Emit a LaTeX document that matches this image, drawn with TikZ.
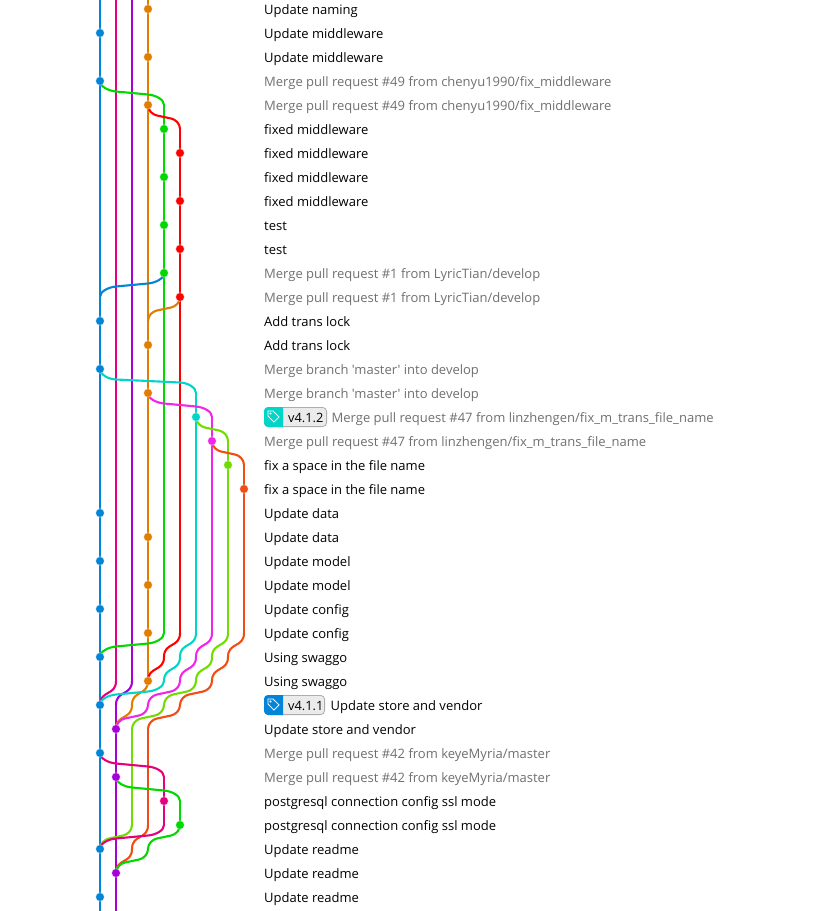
\documentclass[tikz,border=0pt]{standalone}
\usepackage{fontspec}
\usetikzlibrary{calc}
\newfontfamily\uifont{Open Sans}
\definecolor{cblue}{HTML}{0085D9}
\definecolor{cpink}{HTML}{E6007E}
\definecolor{cpurple}{HTML}{A800D8}
\definecolor{corange}{HTML}{E27D00}
\definecolor{cgreen}{HTML}{00D800}
\definecolor{cred}{HTML}{FF0000}
\definecolor{ccyan}{HTML}{00D5C8}
\definecolor{cmag}{HTML}{F026E8}
\definecolor{clime}{HTML}{70DC00}
\definecolor{cfire}{HTML}{F04C14}
\definecolor{cgraytext}{HTML}{707070}
\tikzset{
  lane/.style={line width=2.1pt,line cap=round},
  commit/.style={circle,minimum size=8.6pt,inner sep=0pt,draw=white,draw opacity=.55,line width=.5pt},
  msg/.style={anchor=base west,inner sep=0pt,font=\uifont\fontsize{13}{15}\selectfont,text=black},
  merged/.style={msg,text=cgraytext},
  tagtext/.style={anchor=base west,inner sep=0pt,font=\uifont\fontsize{12.8}{15}\selectfont,text=black},
  tagbox/.style={draw=black!32,fill=black!8,line width=.8pt,rounded corners=4pt},
  tagicon/.style={draw=white,line width=.8pt,line join=round},
}
\newcommand\lnk[5]{%
  \ifnum\numexpr(#4-#2)*(#4-#2)\relax=1
    \draw[lane,#1] (g#2-#3) .. controls ($(g#2-#3)+(0,15)$) and ($(g#4-#5)-(0,15)$) .. (g#4-#5);
  \else
    \pgfmathsetmacro\wid{16*(#4-#2)}%
    \pgfmathsetmacro\rr{min(0.28*abs(\wid),16)*((\wid>0)*2-1)}%
    \pgfmathsetmacro\mm{3/abs(\wid-2*\rr)}%
    \pgfmathsetmacro\cx{0.5*\rr}%
    \pgfmathsetmacro\cy{10.5-0.5*abs(\rr)*\mm}%
    \draw[lane,#1] (g#2-#3) .. controls ($(g#2-#3)+(0,5.5)$) and ($(g#2-#3)+(\cx,\cy)$) .. ($(g#2-#3)+(\rr,10.5)$)
      -- ($(g#4-#5)-(\rr,10.5)$) .. controls ($(g#4-#5)-(\cx,\cy)$) and ($(g#4-#5)-(0,5.5)$) .. (g#4-#5);
  \fi
}
\newcommand\vln[3]{\draw[lane,#1] (#2) -- (#3);}
\newcommand\cmt[3]{\node[commit,fill=#1] (n#3) at (g#2-#3) {};}
\newcommand\tagicn[1]{%
  \begin{scope}[shift={(#1)},rotate=0,x=1pt,y=-1pt]
    \draw[tagicon] (-5.6,-5.6) -- (-0.6,-5.6) -- (5.6,0.4) -- (0.4,5.6) -- (-5.6,-0.6) -- cycle;
    \draw[tagicon,line width=.6pt] (-3,-3) circle (0.8pt);
  \end{scope}}
\begin{document}
\begin{tikzpicture}[x=1pt,y=-1pt]
\useasboundingbox (0,0) rectangle (827,911);
\clip (0,0) rectangle (827,911);
\fill[white] (0,0) rectangle (827,911);
\foreach \c in {0,...,9}{
  \pgfmathsetmacro\xx{100+16*\c}
  \coordinate (t\c) at (\xx,-2);
  \coordinate (b\c) at (\xx,913);
  \foreach \r in {0,...,37}{
    \pgfmathsetmacro\yy{9+24*\r}
    \coordinate (g\c-\r) at (\xx,\yy);
  }
}
% straight lanes
\vln{cpink}{t1}{g1-28}
\vln{cpurple}{t2}{g2-28}
\vln{cpurple}{g1-29}{b1}
\vln{corange}{t3}{g3-28}
\vln{cgreen}{g4-4}{g4-26}
\vln{cred}{g5-5}{g5-26}
\vln{ccyan}{g6-16}{g6-26}
\vln{cmag}{g7-17}{g7-26}
\vln{clime}{g8-18}{g8-26}
\vln{cfire}{g9-19}{g9-26}
\vln{clime}{g2-30}{g2-34}
\vln{cfire}{g3-30}{g3-34}
\vln{cpink}{g4-32}{g4-34}
\vln{cgreen}{g5-33}{g5-34}
\vln{cblue}{t0}{b0}
% curved links
\lnk{cgreen}{0}{3}{4}{4}
\lnk{cred}{3}{4}{5}{5}
\lnk{cblue}{4}{11}{0}{12}
\lnk{corange}{5}{12}{3}{13}
\lnk{ccyan}{0}{15}{6}{16}
\lnk{cmag}{3}{16}{7}{17}
\lnk{clime}{6}{17}{8}{18}
\lnk{cfire}{7}{18}{9}{19}
\lnk{corange}{3}{28}{2}{29}
\lnk{corange}{2}{29}{1}{30}
\lnk{cpurple}{2}{28}{1}{29}
\lnk{cpink}{1}{28}{0}{29}
\lnk{cfire}{9}{26}{8}{27}
\lnk{cfire}{8}{27}{7}{28}
\lnk{cfire}{7}{28}{5}{29}
\lnk{cfire}{5}{29}{3}{30}
\lnk{clime}{8}{26}{7}{27}
\lnk{clime}{7}{27}{6}{28}
\lnk{clime}{6}{28}{4}{29}
\lnk{clime}{4}{29}{2}{30}
\lnk{cmag}{7}{26}{6}{27}
\lnk{cmag}{6}{27}{5}{28}
\lnk{cmag}{5}{28}{3}{29}
\lnk{cmag}{3}{29}{1}{30}
\lnk{cgreen}{4}{26}{0}{27}
\lnk{cred}{5}{26}{4}{27}
\lnk{cred}{4}{27}{3}{28}
\lnk{ccyan}{6}{26}{5}{27}
\lnk{ccyan}{5}{27}{4}{28}
\lnk{ccyan}{4}{28}{0}{29}
\lnk{cpink}{0}{31}{4}{32}
\lnk{cgreen}{1}{32}{5}{33}
\lnk{clime}{2}{34}{0}{35}
\lnk{cfire}{3}{34}{2}{35}
\lnk{cfire}{2}{35}{1}{36}
\lnk{cpink}{4}{34}{0}{35}
\lnk{cgreen}{5}{34}{3}{35}
\lnk{cgreen}{3}{35}{1}{36}
% commits
\cmt{corange}{3}{0}\cmt{cblue}{0}{1}\cmt{corange}{3}{2}\cmt{cblue}{0}{3}\cmt{corange}{3}{4}
\cmt{cgreen}{4}{5}\cmt{cred}{5}{6}\cmt{cgreen}{4}{7}\cmt{cred}{5}{8}\cmt{cgreen}{4}{9}\cmt{cred}{5}{10}
\cmt{cgreen}{4}{11}\cmt{cred}{5}{12}\cmt{cblue}{0}{13}\cmt{corange}{3}{14}\cmt{cblue}{0}{15}\cmt{corange}{3}{16}
\cmt{ccyan}{6}{17}\cmt{cmag}{7}{18}\cmt{clime}{8}{19}\cmt{cfire}{9}{20}
\cmt{cblue}{0}{21}\cmt{corange}{3}{22}\cmt{cblue}{0}{23}\cmt{corange}{3}{24}\cmt{cblue}{0}{25}\cmt{corange}{3}{26}
\cmt{cblue}{0}{27}\cmt{corange}{3}{28}\cmt{cblue}{0}{29}\cmt{cpurple}{1}{30}\cmt{cblue}{0}{31}\cmt{cpurple}{1}{32}
\cmt{cpink}{4}{33}\cmt{cgreen}{5}{34}\cmt{cblue}{0}{35}\cmt{cpurple}{1}{36}\cmt{cblue}{0}{37}
% badges
\draw[tagbox] (264.4,407.4) rectangle (326.6,426.6);
\fill[ccyan] (283,407) [rounded corners=4pt] -- (264,407) -- (264,427) [sharp corners] -- (283,427) -- cycle;
\tagicn{273.5,416.5}
\node[tagtext] (tag17) at (288,422) {v4.1.2};
\draw[tagbox] (264.4,695.4) rectangle (324.6,714.6);
\fill[cblue] (283,695) [rounded corners=4pt] -- (264,695) -- (264,715) [sharp corners] -- (283,715) -- cycle;
\tagicn{273.5,704.5}
\node[tagtext] (tag29) at (288,710) {v4.1.1};
% messages
\newcommand\tm[3]{\node[#1] (m#2) at (264,{14+24*#2}) {#3};}
\tm{msg}{0}{Update naming}
\tm{msg}{1}{Update middleware}
\tm{msg}{2}{Update middleware}
\tm{merged}{3}{Merge pull request \#49 from chenyu1990/fix\_middleware}
\tm{merged}{4}{Merge pull request \#49 from chenyu1990/fix\_middleware}
\tm{msg}{5}{fixed middleware}
\tm{msg}{6}{fixed middleware}
\tm{msg}{7}{fixed middleware}
\tm{msg}{8}{fixed middleware}
\tm{msg}{9}{test}
\tm{msg}{10}{test}
\tm{merged}{11}{Merge pull request \#1 from LyricTian/develop}
\tm{merged}{12}{Merge pull request \#1 from LyricTian/develop}
\tm{msg}{13}{Add trans lock}
\tm{msg}{14}{Add trans lock}
\tm{merged}{15}{Merge branch 'master' into develop}
\tm{merged}{16}{Merge branch 'master' into develop}
\node[merged] (m17) at (331.5,422) {Merge pull request \#47 from linzhengen/fix\_m\_trans\_file\_name};
\tm{merged}{18}{Merge pull request \#47 from linzhengen/fix\_m\_trans\_file\_name}
\tm{msg}{19}{fix a space in the file name}
\tm{msg}{20}{fix a space in the file name}
\tm{msg}{21}{Update data}
\tm{msg}{22}{Update data}
\tm{msg}{23}{Update model}
\tm{msg}{24}{Update model}
\tm{msg}{25}{Update config}
\tm{msg}{26}{Update config}
\tm{msg}{27}{Using swaggo}
\tm{msg}{28}{Using swaggo}
\node[msg] (m29) at (330.5,710) {Update store and vendor};
\tm{msg}{30}{Update store and vendor}
\tm{merged}{31}{Merge pull request \#42 from keyeMyria/master}
\tm{merged}{32}{Merge pull request \#42 from keyeMyria/master}
\tm{msg}{33}{postgresql connection config ssl mode}
\tm{msg}{34}{postgresql connection config ssl mode}
\tm{msg}{35}{Update readme}
\tm{msg}{36}{Update readme}
\tm{msg}{37}{Update readme}
\end{tikzpicture}
\end{document}
